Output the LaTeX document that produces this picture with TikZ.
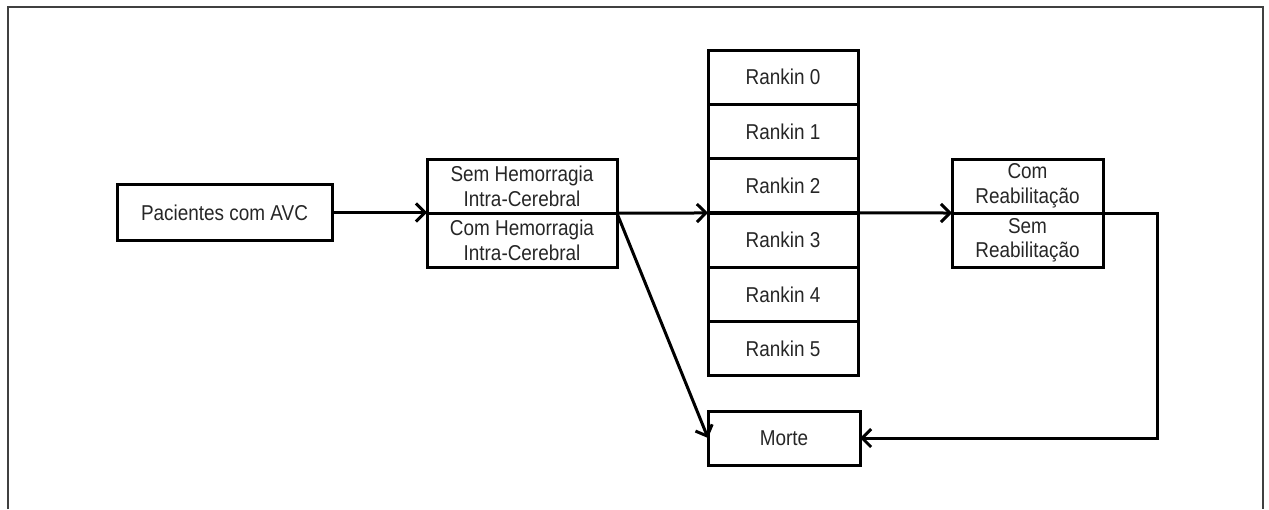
\documentclass[tikz,border=0pt]{standalone}
\usepackage{fontspec}
\setmainfont{Liberation Sans}[FakeStretch=0.88]
\usetikzlibrary{arrows.meta}
\begin{document}
\begin{tikzpicture}[x=1pt,y=-1pt,
  box/.style={draw=black, line width=3pt, inner sep=0pt, outer sep=0pt, align=center,
    font=\fontsize{21.5}{24.5}\selectfont, text=black!85},
  arr/.style={line width=3pt, -{Straight Barb[length=9pt,width=18pt]}},
  frame/.style={draw=black!75, line width=1.5pt}]
\useasboundingbox (0,0) rectangle (1269,509);
\draw[frame] (8,509) -- (8,7) -- (1263,7) -- (1263,509);
\node[box, minimum width=215pt, minimum height=56pt] (pac) at (224.5,212.5) {Pacientes com AVC};
\node[box, minimum width=190pt, minimum height=53.5pt] (sem) at (522,186.5) {Sem Hemorragia\\Intra-Cerebral};
\node[box, minimum width=190pt, minimum height=54pt] (com) at (522,240.5) {Com Hemorragia\\Intra-Cerebral};
\foreach \i/\y in {0/77.2,1/131.5,2/185.8,3/240.2,4/294.5,5/348.8}{
  \node[box, minimum width=150pt, minimum height=54.3pt] (r\i) at (783,\y) {Rankin \i};
}
\node[box, minimum width=151pt, minimum height=54pt] (comr) at (1027.5,186) {Com\\Reabilitação};
\node[box, minimum width=151pt, minimum height=54pt] (semr) at (1027.5,240.5) {Sem\\Reabilitação};
\node[box, minimum width=152pt, minimum height=54pt] (morte) at (784,438) {Morte};
\coordinate (turn) at (1157,213);
\draw[arr] (pac.east) -- (pac.east -| sem.west);
\draw[arr] (sem.south east) -- (r2.south west);
\draw[arr] (r2.south east) -- (comr.south west);
\draw[line width=3pt] (r2.south west) -- (r2.south east);
\draw[arr] (sem.south east) -- (morte.west);
\draw[arr] (comr.south east) -- (comr.south east -| turn) |- (morte.east);
\end{tikzpicture}
\end{document}
